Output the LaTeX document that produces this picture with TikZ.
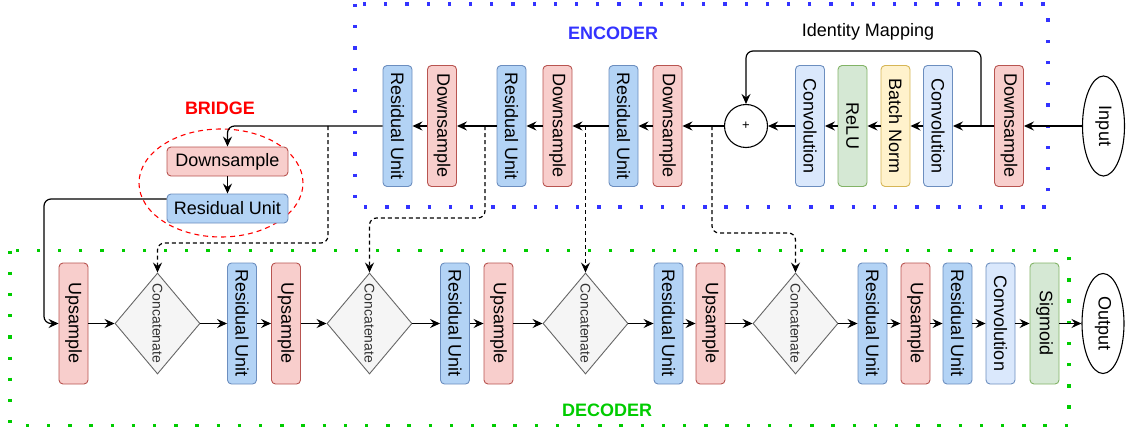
\documentclass[tikz,border=0pt]{standalone}
\usepackage{fontspec}
\setmainfont{Liberation Sans}
\usetikzlibrary{shapes.geometric,arrows.meta,calc}
\definecolor{redfill}{HTML}{F8CECC}
\definecolor{redline}{HTML}{B85450}
\definecolor{rufill}{HTML}{B3D3F5}
\definecolor{blueline}{HTML}{6C8EBF}
\definecolor{convfill}{HTML}{DAE8FC}
\definecolor{greenfill}{HTML}{D5E8D4}
\definecolor{greenline}{HTML}{82B366}
\definecolor{yelfill}{HTML}{FFF2CC}
\definecolor{yelline}{HTML}{D6B656}
\definecolor{grayfill}{HTML}{F5F5F5}
\definecolor{grayline}{HTML}{666666}
\definecolor{graytext}{HTML}{333333}
\definecolor{encblue}{HTML}{3333FF}
\definecolor{decgreen}{HTML}{00CC00}
\newcommand{\myrot}[1]{\rotatebox{-90}{#1}}
\begin{document}
\begin{tikzpicture}[x=1pt,y=-1pt,
  blk/.style={draw, rounded corners=4pt, line width=0.9pt, minimum width=29pt, minimum height=121pt, inner sep=0pt, font=\fontsize{18}{21}\selectfont},
  hblk/.style={draw, rounded corners=4pt, line width=0.9pt, minimum width=121pt, minimum height=29pt, inner sep=0pt, font=\fontsize{18}{21}\selectfont},
  redb/.style={fill=redfill, draw=redline},
  rub/.style={fill=rufill, draw=blueline},
  convb/.style={fill=convfill, draw=blueline},
  greenb/.style={fill=greenfill, draw=greenline},
  yelb/.style={fill=yelfill, draw=yelline},
  concat/.style={diamond, aspect=0.84, draw=grayline, fill=grayfill, line width=0.9pt, minimum width=85pt, minimum height=101pt, inner sep=0pt, text=graytext, font=\fontsize{14}{16}\selectfont},
  term/.style={ellipse, draw, line width=1.1pt, minimum width=42pt, minimum height=100pt, inner sep=0pt, font=\fontsize{18}{21}\selectfont},
  arr/.style={-{Stealth[length=10pt,width=9pt,inset=3.5pt]}, line width=1.2pt},
  skip/.style={arr, dash pattern=on 4pt off 3pt, rounded corners=7pt},
  title/.style={font=\fontsize{18}{21}\selectfont\bfseries}
]
\useasboundingbox (0,0) rectangle (1126,433);
% group frames
\draw[encblue, line width=3.3pt, dash pattern=on 3.3pt off 17.9pt] (355,4) rectangle (1048,207);
\draw[decgreen, line width=3.3pt, dash pattern=on 3.3pt off 17.9pt] (10,250.5) rectangle (1069,425.5);
\node[title, text=encblue] (enc) at (613,33) {ENCODER};
\node[title, text=decgreen] (dec) at (607,410) {DECODER};
\node[title, text=red] (brt) at (220,108) {BRIDGE};
\node[draw=red, dash pattern=on 5pt off 4pt, line width=1.1pt, ellipse, minimum width=164pt, minimum height=108pt] (bell) at (221,183) {};
% encoder
\node[blk, rub] (RU1) at (397.5,126) {\myrot{Residual Unit}};
\node[blk, redb] (DS1) at (442,126) {\myrot{Downsample}};
\node[blk, rub] (RU2) at (511.5,126) {\myrot{Residual Unit}};
\node[blk, redb] (DS2) at (557.5,126) {\myrot{Downsample}};
\node[blk, rub] (RU3) at (623.5,126) {\myrot{Residual Unit}};
\node[blk, redb] (DS3) at (667.5,126) {\myrot{Downsample}};
\node[circle, draw, line width=1.1pt, minimum size=43pt, inner sep=0pt, font=\fontsize{13}{15}\selectfont] (plus) at (746,126) {+};
\node[blk, convb] (CV1) at (810,126) {\myrot{Convolution}};
\node[blk, greenb] (RL) at (852.5,126) {\myrot{ReLU}};
\node[blk, yelb] (BN) at (895.5,126) {\myrot{Batch Norm}};
\node[blk, convb] (CV2) at (938,126) {\myrot{Convolution}};
\node[blk, redb] (DS0) at (1009,126) {\myrot{Downsample}};
\node[term] (IN) at (1103.5,126) {\myrot{Input}};
\node[font=\fontsize{18}{21}\selectfont] (idl) at (868,32) {Identity Mapping};
% bridge
\node[hblk, redb] (BDS) at (227.5,161.5) {Downsample};
\node[hblk, rub] (BRU) at (227.5,208.5) {Residual Unit};
% decoder
\node[blk, redb] (UP1) at (73.5,323.5) {\myrot{Upsample}};
\node[concat] (C1) at (157.5,323.5) {\myrot{Concatenate}};
\node[blk, rub] (RUa) at (242,323.5) {\myrot{Residual Unit}};
\node[blk, redb] (UPa) at (286,323.5) {\myrot{Upsample}};
\node[concat] (C2) at (369.5,323.5) {\myrot{Concatenate}};
\node[blk, rub] (RUb) at (455,323.5) {\myrot{Residual Unit}};
\node[blk, redb] (UPb) at (498.5,323.5) {\myrot{Upsample}};
\node[concat] (C3) at (585.5,323.5) {\myrot{Concatenate}};
\node[blk, rub] (RUc) at (668.5,323.5) {\myrot{Residual Unit}};
\node[blk, redb] (UPc) at (710.5,323.5) {\myrot{Upsample}};
\node[concat] (C4) at (795.5,323.5) {\myrot{Concatenate}};
\node[blk, rub] (RUd) at (872.5,323.5) {\myrot{Residual Unit}};
\node[blk, redb] (UPd) at (915.5,323.5) {\myrot{Upsample}};
\node[blk, rub] (RUe) at (957.5,323.5) {\myrot{Residual Unit}};
\node[blk, convb] (CVd) at (1000.5,323.5) {\myrot{Convolution}};
\node[blk, greenb] (SG) at (1044.5,323.5) {\myrot{Sigmoid}};
\node[term] (OUT) at (1103,323.5) {\myrot{Output}};
% coordinates
\coordinate (idm) at (981,126);
\coordinate (idtop) at (981,51);
\coordinate (sA) at (328,126);
\coordinate (sB) at (485,126);
\coordinate (sC) at (585.5,126);
\coordinate (sD) at (712,126);
\coordinate (bA) at (328,243);
\coordinate (bB) at (485,218);
\coordinate (bD) at (712,233);
\coordinate (bend) at (44,323.5);
% encoder arrows
\draw[arr] (IN) -- (DS0);
\draw[arr] (DS0) -- (CV2);
\draw[arr] (CV2) -- (BN);
\draw[arr] (BN) -- (RL);
\draw[arr] (RL) -- (CV1);
\draw[arr] (CV1) -- (plus);
\draw[arr] (plus) -- (DS3);
\draw[arr] (DS3) -- (RU3);
\draw[arr] (RU3) -- (DS2);
\draw[arr] (DS2) -- (RU2);
\draw[arr] (RU2) -- (DS1);
\draw[arr] (DS1) -- (RU1);
\draw[arr, rounded corners=7pt] (idm) -- (idtop) -| (plus.north);
% bridge
\draw[arr, rounded corners=7pt] (RU1.west) -| (BDS.north);
\draw[arr] (BDS) -- (BRU);
\draw[arr, rounded corners=7pt] ([yshift=9.5pt]BRU.west) -| (bend) -- (UP1.west);
% skips
\draw[skip] (sA) -- (bA) -| (C1.north);
\draw[skip] (sB) -- (bB) -| (C2.north);
\draw[skip] (sC) -- (C3.north);
\draw[skip] (sD) -- (bD) -| (C4.north);
% decoder arrows
\draw[arr] (UP1) -- (C1);
\draw[arr] (C1) -- (RUa);
\draw[arr] (RUa) -- (UPa);
\draw[arr] (UPa) -- (C2);
\draw[arr] (C2) -- (RUb);
\draw[arr] (RUb) -- (UPb);
\draw[arr] (UPb) -- (C3);
\draw[arr] (C3) -- (RUc);
\draw[arr] (RUc) -- (UPc);
\draw[arr] (UPc) -- (C4);
\draw[arr] (C4) -- (RUd);
\draw[arr] (RUd) -- (UPd);
\draw[arr] (UPd) -- (RUe);
\draw[arr] (RUe) -- (CVd);
\draw[arr] (CVd) -- (SG);
\draw[arr] (SG) -- (OUT);
\end{tikzpicture}
\end{document}
